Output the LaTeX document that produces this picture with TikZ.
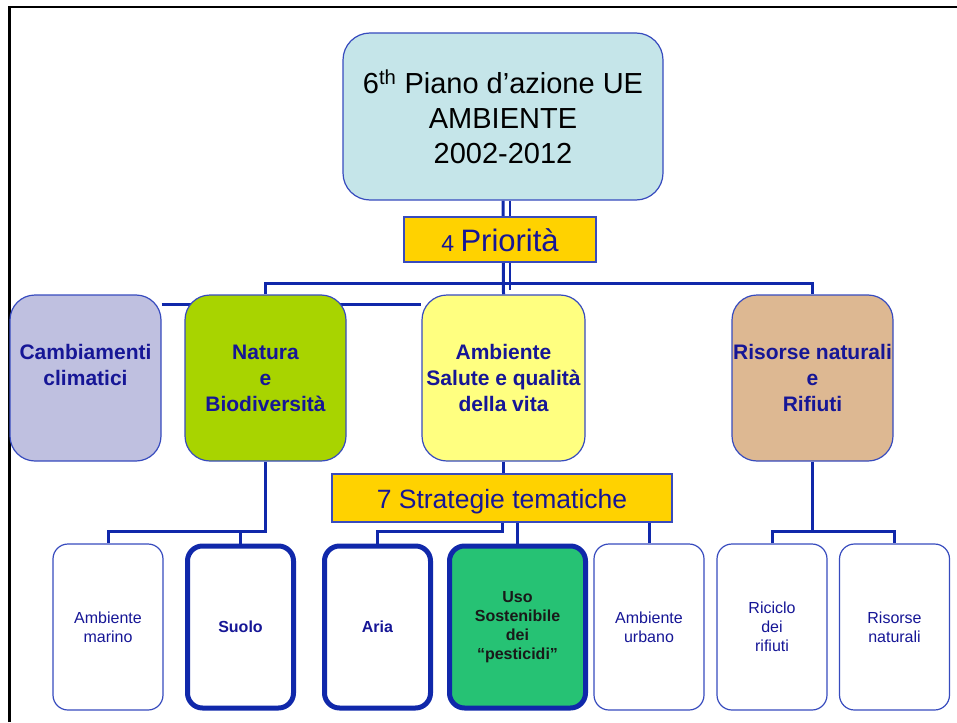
\documentclass[tikz,border=0pt]{standalone}
\usepackage{fontspec}
\setmainfont{Liberation Sans}
\usetikzlibrary{positioning, backgrounds}
\definecolor{navy}{RGB}{22, 22, 150}
\definecolor{linkblue}{RGB}{16, 40, 170}
\definecolor{edgeblue}{RGB}{55, 75, 190}
\definecolor{planblue}{RGB}{197, 229, 233}
\definecolor{gold}{RGB}{255, 210, 0}
\definecolor{lavender}{RGB}{191, 192, 224}
\definecolor{leafgreen}{RGB}{168, 212, 0}
\definecolor{paleyellow}{RGB}{255, 255, 128}
\definecolor{tan}{RGB}{221, 184, 146}
\definecolor{usogreen}{RGB}{38, 194, 116}

\begin{document}
\begin{tikzpicture}[x=1pt, y=-1pt,
  topic/.style={draw=edgeblue, line width=1.2pt, rounded corners=25pt, minimum width=161pt,
    minimum height=166pt, inner sep=0pt, align=center, text=navy,
    font=\fontsize{21}{26}\selectfont\bfseries},
  bar/.style={draw=edgeblue, fill=gold, line width=1.2pt, inner sep=0pt, text=navy, text depth=0pt},
  leaf/.style={draw=edgeblue, fill=white, line width=1.2pt, rounded corners=15pt, minimum width=110pt,
    minimum height=166pt, inner sep=0pt, align=center, text=navy,
    font=\fontsize{16}{19}\selectfont},
  leafbold/.style={leaf, draw=linkblue, line width=5pt, minimum width=106pt, minimum height=162pt,
    font=\fontsize{16}{19}\selectfont\bfseries},
  link/.style={draw=linkblue, line width=3pt},
  thinlink/.style={draw=linkblue, line width=1.8pt}]
  \useasboundingbox (0,0) rectangle (957,722);

  % frame
  \draw[line width=2.7pt] (9.5,722) -- (9.5,7) -- (957,7);

  % plan and priorities
  \node[draw=edgeblue, fill=planblue, line width=1.2pt, rounded corners=27pt, minimum width=320pt,
    minimum height=167pt, inner sep=0pt, align=center, font=\fontsize{29}{35}\selectfont]
    (plan) at (503,116.5) {6\textsuperscript{th} Piano d’azione UE\\AMBIENTE\\2002-2012};
  \node[bar, minimum width=192pt, minimum height=45pt, text height=24pt] (prio) at (500,239.5)
    {\fontsize{23}{28}\selectfont 4\ \fontsize{31}{36}\selectfont Priorità};

  % four priorities
  \node[topic, fill=lavender, minimum width=151pt] (cam) at (85.5,378) {Cambiamenti\\climatici\\~};
  \node[topic, fill=leafgreen] (nat) at (265.5,378) {Natura\\e\\Biodiversità};
  \node[topic, fill=paleyellow, minimum width=163pt] (amb) at (503.5,378)
    {Ambiente\\Salute e qualità\\della vita};
  \node[topic, fill=tan] (ris) at (812.5,378) {Risorse naturali\\e\\Rifiuti};

  % thematic strategies
  \node[bar, minimum width=340pt, minimum height=48pt, text height=20pt, font=\fontsize{26.5}{32}\selectfont]
    (str) at (502,498) {7 Strategie tematiche};
  \node[leaf] (mar) at (108,627) {Ambiente\\marino};
  \node[leafbold] (suo) at (240.5,627) {Suolo};
  \node[leafbold] (aria) at (377.5,627) {Aria};
  \node[leafbold, fill=usogreen, minimum width=136pt, text=black!90] (uso) at (517.5,627)
    {Uso\\Sostenibile\\dei\\“pesticidi”};
  \node[leaf] (urb) at (649,627) {Ambiente\\urbano};
  \node[leaf] (ric) at (772,627) {Riciclo\\dei\\rifiuti};
  \node[leaf] (rnat) at (894.5,627) {Risorse\\naturali};

  \coordinate (topbus) at (0,283);
  \coordinate (thinend) at (0,290);
  \coordinate (lowbus) at (0,531);

  \begin{scope}[on background layer]
    \draw[link] (plan.south) -- (amb.north);
    \draw[thinlink] ([xshift=7pt]plan.south) -- ([xshift=7pt]plan.south |- thinend);
    \draw[link] (nat.north) -- (nat.north |- topbus) -| (ris.north);
    \draw[link] ([yshift=-10pt]cam.north east) -- ([yshift=-10pt]amb.north west);
    % Natura
    \draw[link] (nat.south) -- (nat.south |- lowbus) -| (mar.north);
    \draw[link] (suo.north) -- (suo.north |- lowbus);
    % Ambiente
    \draw[link] (amb.south) -- (amb.south |- str.north);
    \draw[link] (str.south) -- (str.south |- lowbus) -| (aria.north);
    \draw[link] (uso.north) -- (uso.north |- str.south);
    \draw[link] (urb.north) -- (urb.north |- str.south);
    % Risorse
    \draw[link] (ris.south) -- (ris.south |- lowbus);
    \draw[link] (ric.north) -- (ric.north |- lowbus) -| (rnat.north);
  \end{scope}
\end{tikzpicture}
\end{document}
